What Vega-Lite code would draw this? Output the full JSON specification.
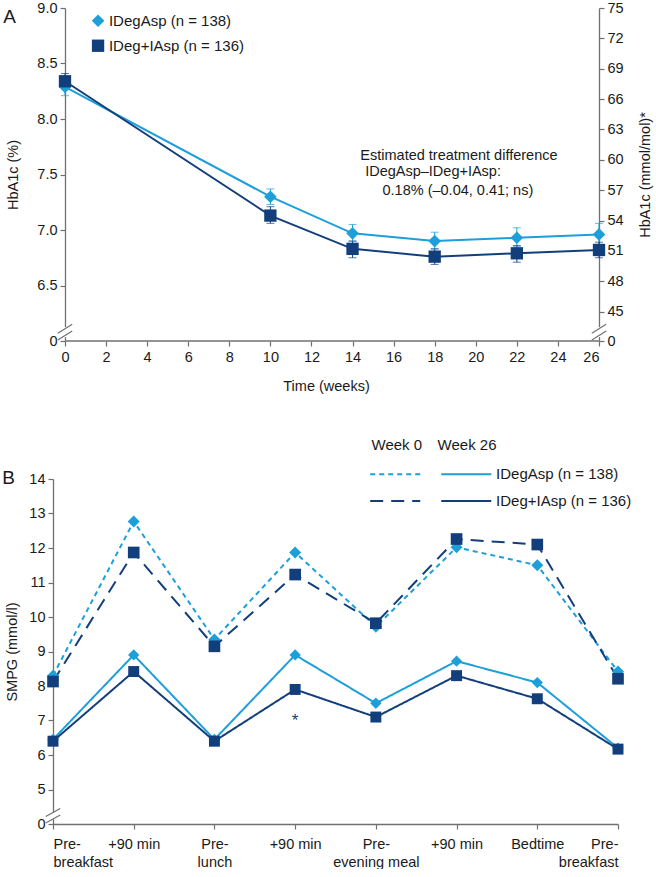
{
  "$schema": "https://vega.github.io/schema/vega-lite/v6.json",
  "padding": {"left": 2, "top": 0, "right": 2, "bottom": 0},
  "spacing": 44,
  "config": {
    "font": "Liberation Sans",
    "view": {"stroke": null},
    "axis": {
      "labelFont": "Liberation Sans", "titleFont": "Liberation Sans",
      "labelFontSize": 14.5, "titleFontSize": 14.5, "titleFontWeight": "normal",
      "domainColor": "#707070", "tickColor": "#707070", "domainWidth": 1.3, "tickWidth": 1.2,
      "labelColor": "#1a1a1a", "titleColor": "#1a1a1a", "grid": false, "tickSize": 5, "labelPadding": 3, "labelOverlap": false
    },
    "text": {"font": "Liberation Sans", "color": "#1a1a1a"}
  },
  "datasets": {
    "hba": [
      {"week": 0, "val": 8.29, "lo": 8.21, "hi": 8.37, "trt": "IDegAsp"},
      {"week": 10, "val": 7.30, "lo": 7.23, "hi": 7.37, "trt": "IDegAsp"},
      {"week": 14, "val": 6.97, "lo": 6.90, "hi": 7.05, "trt": "IDegAsp"},
      {"week": 18, "val": 6.90, "lo": 6.83, "hi": 6.98, "trt": "IDegAsp"},
      {"week": 22, "val": 6.93, "lo": 6.85, "hi": 7.02, "trt": "IDegAsp"},
      {"week": 26, "val": 6.96, "lo": 6.87, "hi": 7.06, "trt": "IDegAsp"},
      {"week": 0, "val": 8.34, "lo": 8.27, "hi": 8.41, "trt": "IDeg+IAsp"},
      {"week": 10, "val": 7.13, "lo": 7.06, "hi": 7.21, "trt": "IDeg+IAsp"},
      {"week": 14, "val": 6.83, "lo": 6.75, "hi": 6.90, "trt": "IDeg+IAsp"},
      {"week": 18, "val": 6.76, "lo": 6.69, "hi": 6.83, "trt": "IDeg+IAsp"},
      {"week": 22, "val": 6.79, "lo": 6.71, "hi": 6.86, "trt": "IDeg+IAsp"},
      {"week": 26, "val": 6.82, "lo": 6.75, "hi": 6.89, "trt": "IDeg+IAsp"}
    ],
    "hbaLeg": [
      {"week": 1.61, "val": 8.885, "tx": 2.14, "trt": "IDegAsp", "label": "IDegAsp (n = 138)"},
      {"week": 1.61, "val": 8.66, "tx": 2.14, "trt": "IDeg+IAsp", "label": "IDeg+IAsp (n = 136)"}
    ],
    "note": [
      {"week": 19.18, "val": 7.67, "label": "Estimated treatment difference"},
      {"week": 17.92, "val": 7.52, "label": "IDegAsp\u2013IDeg+IAsp:"},
      {"week": 19.13, "val": 7.35, "label": "0.18% (\u20130.04, 0.41; ns)"}
    ],
    "xline": [{"x": 0, "x2": 26, "y": 6}],
    "brkTop": [
      {"x": -0.35, "x2": 0.35, "y": 6.07, "y2": 6.15},
      {"x": -0.35, "x2": 0.35, "y": 6.01, "y2": 6.09},
      {"x": 25.65, "x2": 26.35, "y": 6.07, "y2": 6.15},
      {"x": 25.65, "x2": 26.35, "y": 6.01, "y2": 6.09}
    ],
    "gapTop": [
      {"x": 0, "y": 6.035, "y2": 6.125},
      {"x": 26, "y": 6.035, "y2": 6.125}
    ],
    "mm": [{"mm": 45}, {"mm": 75}],
    "smpg": [
      {"idx": 0, "val": 8.30, "trt": "IDegAsp", "series": "IDegAsp wk0"},
      {"idx": 1, "val": 12.77, "trt": "IDegAsp", "series": "IDegAsp wk0"},
      {"idx": 2, "val": 9.35, "trt": "IDegAsp", "series": "IDegAsp wk0"},
      {"idx": 3, "val": 11.87, "trt": "IDegAsp", "series": "IDegAsp wk0"},
      {"idx": 4, "val": 9.72, "trt": "IDegAsp", "series": "IDegAsp wk0"},
      {"idx": 5, "val": 12.02, "trt": "IDegAsp", "series": "IDegAsp wk0"},
      {"idx": 6, "val": 11.50, "trt": "IDegAsp", "series": "IDegAsp wk0"},
      {"idx": 7, "val": 8.42, "trt": "IDegAsp", "series": "IDegAsp wk0"},
      {"idx": 0, "val": 8.13, "trt": "IDeg+IAsp", "series": "IDeg+IAsp wk0"},
      {"idx": 1, "val": 11.87, "trt": "IDeg+IAsp", "series": "IDeg+IAsp wk0"},
      {"idx": 2, "val": 9.15, "trt": "IDeg+IAsp", "series": "IDeg+IAsp wk0"},
      {"idx": 3, "val": 11.23, "trt": "IDeg+IAsp", "series": "IDeg+IAsp wk0"},
      {"idx": 4, "val": 9.82, "trt": "IDeg+IAsp", "series": "IDeg+IAsp wk0"},
      {"idx": 5, "val": 12.26, "trt": "IDeg+IAsp", "series": "IDeg+IAsp wk0"},
      {"idx": 6, "val": 12.10, "trt": "IDeg+IAsp", "series": "IDeg+IAsp wk0"},
      {"idx": 7, "val": 8.21, "trt": "IDeg+IAsp", "series": "IDeg+IAsp wk0"},
      {"idx": 0, "val": 6.45, "trt": "IDegAsp", "series": "IDegAsp wk26"},
      {"idx": 1, "val": 8.90, "trt": "IDegAsp", "series": "IDegAsp wk26"},
      {"idx": 2, "val": 6.45, "trt": "IDegAsp", "series": "IDegAsp wk26"},
      {"idx": 3, "val": 8.90, "trt": "IDegAsp", "series": "IDegAsp wk26"},
      {"idx": 4, "val": 7.50, "trt": "IDegAsp", "series": "IDegAsp wk26"},
      {"idx": 5, "val": 8.72, "trt": "IDegAsp", "series": "IDegAsp wk26"},
      {"idx": 6, "val": 8.10, "trt": "IDegAsp", "series": "IDegAsp wk26"},
      {"idx": 7, "val": 6.20, "trt": "IDegAsp", "series": "IDegAsp wk26"},
      {"idx": 0, "val": 6.40, "trt": "IDeg+IAsp", "series": "IDeg+IAsp wk26"},
      {"idx": 1, "val": 8.42, "trt": "IDeg+IAsp", "series": "IDeg+IAsp wk26"},
      {"idx": 2, "val": 6.40, "trt": "IDeg+IAsp", "series": "IDeg+IAsp wk26"},
      {"idx": 3, "val": 7.90, "trt": "IDeg+IAsp", "series": "IDeg+IAsp wk26"},
      {"idx": 4, "val": 7.10, "trt": "IDeg+IAsp", "series": "IDeg+IAsp wk26"},
      {"idx": 5, "val": 8.30, "trt": "IDeg+IAsp", "series": "IDeg+IAsp wk26"},
      {"idx": 6, "val": 7.63, "trt": "IDeg+IAsp", "series": "IDeg+IAsp wk26"},
      {"idx": 7, "val": 6.17, "trt": "IDeg+IAsp", "series": "IDeg+IAsp wk26"}
    ],
    "smpgLegLines": [
      {"x1": 3.93, "x2": 4.55, "y": 14.14, "trt": "IDegAsp", "series": "IDegAsp wk0"},
      {"x1": 4.81, "x2": 5.43, "y": 14.14, "trt": "IDegAsp", "series": "IDegAsp wk26"},
      {"x1": 3.93, "x2": 4.55, "y": 13.36, "trt": "IDeg+IAsp", "series": "IDeg+IAsp wk0"},
      {"x1": 4.81, "x2": 5.43, "y": 13.36, "trt": "IDeg+IAsp", "series": "IDeg+IAsp wk26"}
    ],
    "smpgLegText": [
      {"x": 5.49, "y": 14.14, "label": "IDegAsp (n = 138)"},
      {"x": 5.49, "y": 13.36, "label": "IDeg+IAsp (n = 136)"}
    ],
    "smpgLegHead": [
      {"x": 4.26, "y": 14.99, "label": "Week 0"},
      {"x": 5.13, "y": 14.99, "label": "Week 26"}
    ],
    "brkBot": [
      {"x": -0.09, "x2": 0.09, "y": 4.22, "y2": 4.45},
      {"x": -0.09, "x2": 0.09, "y": 4.03, "y2": 4.26}
    ],
    "gapBot": [{"x": 0, "y": 4.14, "y2": 4.34}]
  },
  "vconcat": [
    {
      "width": 546,
      "height": 333,
      "layer": [
        {
          "layer": [
            {
              "data": {"name": "hba"},
              "mark": {"type": "rule", "strokeWidth": 1},
              "encoding": {
                "x": {"field": "week", "type": "quantitative", "scale": {"domain": [-0.584, 26], "nice": false, "zero": false},
                      "axis": {"values": [0, 2, 4, 6, 8, 10, 12, 14, 16, 18, 20, 22, 24, 26], "tickCount": 30, "domain": false, "labelPadding": 4, "title": "Time (weeks)", "titlePadding": 16}},
                "y": {"field": "lo", "type": "quantitative", "scale": {"domain": [6, 9], "nice": false, "zero": false},
                      "axis": {"values": [6, 6.5, 7, 7.5, 8, 8.5, 9], "tickCount": 20, "offset": -12, "labelExpr": "datum.value < 6.1 ? '0' : format(datum.value, '.1f')", "title": "HbA1c (%)", "titlePadding": 16}},
                "y2": {"field": "hi"},
                "color": {"field": "trt", "type": "nominal", "scale": {"domain": ["IDegAsp", "IDeg+IAsp"], "range": ["#1d9fd9", "#123f7c"]}, "legend": null}
              }
            },
            {
              "data": {"name": "hba"},
              "mark": {"type": "tick", "orient": "horizontal", "size": 8, "thickness": 1},
              "encoding": {
                "x": {"field": "week", "type": "quantitative"},
                "y": {"field": "lo", "type": "quantitative"},
                "color": {"field": "trt", "type": "nominal", "legend": null}
              }
            },
            {
              "data": {"name": "hba"},
              "mark": {"type": "tick", "orient": "horizontal", "size": 8, "thickness": 1},
              "encoding": {
                "x": {"field": "week", "type": "quantitative"},
                "y": {"field": "hi", "type": "quantitative"},
                "color": {"field": "trt", "type": "nominal", "legend": null}
              }
            },
            {
              "data": {"name": "xline"},
              "mark": {"type": "rule", "color": "#707070", "strokeWidth": 1.3},
              "encoding": {
                "x": {"field": "x", "type": "quantitative"},
                "x2": {"field": "x2"},
                "y": {"field": "y", "type": "quantitative"}
              }
            },
            {
              "data": {"name": "hba"},
              "mark": {"type": "line", "strokeWidth": 2},
              "encoding": {
                "x": {"field": "week", "type": "quantitative"},
                "y": {"field": "val", "type": "quantitative"},
                "color": {"field": "trt", "type": "nominal", "legend": null}
              }
            },
            {
              "data": {"name": "hba"},
              "mark": {"type": "point", "filled": true, "opacity": 1},
              "encoding": {
                "x": {"field": "week", "type": "quantitative"},
                "y": {"field": "val", "type": "quantitative"},
                "color": {"field": "trt", "type": "nominal", "legend": null},
                "shape": {"field": "trt", "type": "nominal", "scale": {"domain": ["IDegAsp", "IDeg+IAsp"], "range": ["diamond", "square"]}, "legend": null},
                "size": {"field": "trt", "type": "nominal", "scale": {"domain": ["IDegAsp", "IDeg+IAsp"], "range": [160, 120]}, "legend": null}
              }
            },
            {
              "data": {"name": "hbaLeg"},
              "mark": {"type": "point", "filled": true, "opacity": 1},
              "encoding": {
                "x": {"field": "week", "type": "quantitative"},
                "y": {"field": "val", "type": "quantitative"},
                "color": {"field": "trt", "type": "nominal", "legend": null},
                "shape": {"field": "trt", "type": "nominal", "legend": null},
                "size": {"field": "trt", "type": "nominal", "legend": null}
              }
            },
            {
              "data": {"name": "hbaLeg"},
              "mark": {"type": "text", "align": "left", "baseline": "middle", "fontSize": 15},
              "encoding": {
                "x": {"field": "tx", "type": "quantitative"},
                "y": {"field": "val", "type": "quantitative"},
                "text": {"field": "label"}
              }
            },
            {
              "data": {"name": "note"},
              "mark": {"type": "text", "align": "center", "baseline": "middle", "fontSize": 14.5},
              "encoding": {
                "x": {"field": "week", "type": "quantitative"},
                "y": {"field": "val", "type": "quantitative"},
                "text": {"field": "label"}
              }
            },
            {
              "data": {"name": "gapTop"},
              "mark": {"type": "rule", "color": "white", "strokeWidth": 4},
              "encoding": {
                "x": {"field": "x", "type": "quantitative"},
                "y": {"field": "y", "type": "quantitative"},
                "y2": {"field": "y2"}
              }
            },
            {
              "data": {"name": "brkTop"},
              "mark": {"type": "rule", "color": "#707070", "strokeWidth": 1.2},
              "encoding": {
                "x": {"field": "x", "type": "quantitative"},
                "x2": {"field": "x2"},
                "y": {"field": "y", "type": "quantitative"},
                "y2": {"field": "y2"}
              }
            },
            {
              "data": {"values": [{"x": -2.7, "y": 8.92, "t": "A"}]},
              "mark": {"type": "text", "fontSize": 19, "align": "center", "baseline": "middle"},
              "encoding": {
                "x": {"field": "x", "type": "quantitative"},
                "y": {"field": "y", "type": "quantitative"},
                "text": {"field": "t"}
              }
            }
          ]
        },
        {
          "data": {"name": "mm"},
          "mark": {"type": "point", "opacity": 0},
          "encoding": {
            "x": {"value": 0},
            "y": {"field": "mm", "type": "quantitative", "scale": {"domain": [42.1, 75], "nice": false, "zero": false},
                  "axis": {"orient": "right", "values": [42.1, 45, 48, 51, 54, 57, 60, 63, 66, 69, 72, 75], "tickCount": 30, "labelExpr": "datum.value < 44 ? '0' : format(datum.value, 'd')", "title": "HbA1c (mmol/mol)*", "titleAngle": 270, "titlePadding": 29}}
          }
        }
      ],
      "resolve": {"scale": {"y": "independent"}}
    },
    {
      "width": 565,
      "height": 345,
      "layer": [
        {
          "data": {"name": "smpg"},
          "mark": {"type": "line", "strokeWidth": 2},
          "encoding": {
            "x": {"field": "idx", "type": "quantitative", "scale": {"domain": [0, 7], "nice": false},
                  "axis": {"values": [0, 1, 2, 3, 4, 5, 6, 7], "tickCount": 20, "title": null, "labelLineHeight": 18, "labelPadding": 8,
                           "labelExpr": "[['Pre-','breakfast'],'+90 min',['Pre-','lunch'],'+90 min',['Pre-','evening meal'],'+90 min','Bedtime',['Pre-','breakfast']][datum.value]"}},
            "y": {"field": "val", "type": "quantitative", "scale": {"domain": [4, 14], "nice": false, "zero": false},
                  "axis": {"values": [4, 5, 6, 7, 8, 9, 10, 11, 12, 13, 14], "tickCount": 30, "labelOverlap": false, "labelExpr": "datum.value < 4.5 ? '0' : format(datum.value, 'd')", "title": "SMPG (mmol/l)", "titlePadding": 9}},
            "detail": {"field": "series"},
            "color": {"field": "trt", "type": "nominal", "scale": {"domain": ["IDegAsp", "IDeg+IAsp"], "range": ["#1d9fd9", "#123f7c"]}, "legend": null},
            "strokeDash": {"field": "series", "type": "nominal", "scale": {"domain": ["IDegAsp wk0", "IDeg+IAsp wk0", "IDegAsp wk26", "IDeg+IAsp wk26"], "range": [[5, 4], [13, 8], [1, 0], [1, 0]]}, "legend": null}
          }
        },
        {
          "data": {"name": "smpg"},
          "mark": {"type": "point", "filled": true, "opacity": 1},
          "encoding": {
            "x": {"field": "idx", "type": "quantitative"},
            "y": {"field": "val", "type": "quantitative"},
            "color": {"field": "trt", "type": "nominal", "legend": null},
            "shape": {"field": "series", "type": "nominal", "scale": {"domain": ["IDegAsp wk0", "IDeg+IAsp wk0", "IDegAsp wk26", "IDeg+IAsp wk26"], "range": ["diamond", "square", "triangle-up", "square"]}, "legend": null},
            "size": {"field": "series", "type": "nominal", "scale": {"domain": ["IDegAsp wk0", "IDeg+IAsp wk0", "IDegAsp wk26", "IDeg+IAsp wk26"], "range": [90, 150, 130, 150]}, "legend": null}
          }
        },
        {
          "data": {"values": [{"x": 3, "y": 7.0, "t": "*"}]},
          "mark": {"type": "text", "fontSize": 17, "align": "center", "baseline": "middle", "color": "#123f7c"},
          "encoding": {
            "x": {"field": "x", "type": "quantitative"},
            "y": {"field": "y", "type": "quantitative"},
            "text": {"field": "t"}
          }
        },
        {
          "data": {"name": "smpgLegLines"},
          "mark": {"type": "rule", "strokeWidth": 2},
          "encoding": {
            "x": {"field": "x1", "type": "quantitative"},
            "x2": {"field": "x2"},
            "y": {"field": "y", "type": "quantitative"},
            "color": {"field": "trt", "type": "nominal", "legend": null},
            "strokeDash": {"field": "series", "type": "nominal", "legend": null}
          }
        },
        {
          "data": {"name": "smpgLegText"},
          "mark": {"type": "text", "align": "left", "baseline": "middle", "fontSize": 15},
          "encoding": {
            "x": {"field": "x", "type": "quantitative"},
            "y": {"field": "y", "type": "quantitative"},
            "text": {"field": "label"}
          }
        },
        {
          "data": {"name": "smpgLegHead"},
          "mark": {"type": "text", "align": "center", "baseline": "middle", "fontSize": 15},
          "encoding": {
            "x": {"field": "x", "type": "quantitative"},
            "y": {"field": "y", "type": "quantitative"},
            "text": {"field": "label"}
          }
        },
        {
          "data": {"name": "gapBot"},
          "mark": {"type": "rule", "color": "white", "strokeWidth": 4},
          "encoding": {
            "x": {"field": "x", "type": "quantitative"},
            "y": {"field": "y", "type": "quantitative"},
            "y2": {"field": "y2"}
          }
        },
        {
          "data": {"name": "brkBot"},
          "mark": {"type": "rule", "color": "#707070", "strokeWidth": 1.2},
          "encoding": {
            "x": {"field": "x", "type": "quantitative"},
            "x2": {"field": "x2"},
            "y": {"field": "y", "type": "quantitative"},
            "y2": {"field": "y2"}
          }
        },
        {
          "data": {"values": [{"x": -0.55, "y": 14.04, "t": "B"}]},
          "mark": {"type": "text", "fontSize": 19, "align": "center", "baseline": "middle"},
          "encoding": {
            "x": {"field": "x", "type": "quantitative"},
            "y": {"field": "y", "type": "quantitative"},
            "text": {"field": "t"}
          }
        }
      ]
    }
  ]
}
